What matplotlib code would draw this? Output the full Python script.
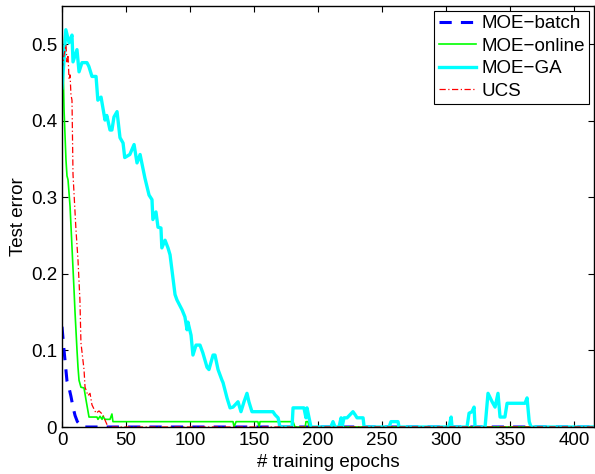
import numpy as np
import matplotlib
matplotlib.use("Agg")
import matplotlib.pyplot as plt

plt.rcParams['font.family'] = ['Liberation Sans', 'DejaVu Sans']

# MOE-batch (blue dashed)
batch_x = [0, 1.6, 2.3, 3.9, 5.5, 7, 8.6, 10.2, 12, 15.6, 415.6]
batch_y = [0.131, 0.10, 0.088, 0.060, 0.051, 0.040, 0.026, 0.015, 0.007, 0, 0]

# MOE-online (green)
online_x = [0, 0.8, 1.6, 3.1, 3.9, 4.7, 6.3, 7.8, 9.4, 10.2, 11.7, 12.5, 13.3,
            14.8, 17.2, 18.8, 21.1, 27.3, 28.1, 29.7, 31.3, 32, 33.6, 37.5, 39,
            39.8, 133.6, 134.4, 136, 153, 154, 154.7, 180.5, 182, 190, 190.6,
            192.2, 193, 415.6]
online_y = [0.519, 0.48, 0.414, 0.349, 0.328, 0.323, 0.288, 0.235, 0.179, 0.149,
            0.101, 0.078, 0.061, 0.052, 0.051, 0.035, 0.013, 0.013, 0.010, 0.014,
            0.010, 0.014, 0.010, 0.010, 0.017, 0.007, 0.007, 0, 0.007, 0.007, 0,
            0.007, 0.007, 0, 0, 0.007, 0.007, 0, 0]

# MOE-GA (cyan)
ga_x = [0, 1.6, 3, 5.5, 7.8, 8.6, 11.7, 13.3, 15.6, 19.5, 21, 23.4, 26.6, 28,
        30.5, 33.6, 35, 37.5, 39, 40.6, 43, 45.3, 47.7, 49, 53, 56.3, 58.6, 61,
        64.8, 68, 70.3, 71, 73.4, 75, 77.3, 78, 80.5, 82.8, 84.4, 88.3, 89.8,
        93.8, 96, 97.7, 98.4, 100.8, 102.3, 104.7, 107.8, 110, 113.3, 114.8,
        118, 119.5, 121.9, 125, 125.8, 128.9, 131.3, 133.6, 137.5, 139.8, 142.2,
        144.5, 146, 148.4, 164.8, 166.4, 168.8, 170.3, 179.7, 180.5, 189, 190.6,
        191.4, 193, 194.5, 210, 211.7, 213.3, 216.4, 218, 218.8, 220.3, 222.7,
        225, 227.3, 229, 230.5, 235.2, 236, 255.5, 257, 262.5, 263.3, 302.3,
        304, 304.7, 316.4, 318, 320.3, 321.9, 322.7, 330.5, 332.8, 336, 338.3,
        340.6, 342.2, 346, 347.7, 361.7, 363.3, 365, 366.4, 415.6]
ga_y = [0.443, 0.480, 0.519, 0.502, 0.512, 0.477, 0.493, 0.464, 0.476, 0.476,
        0.471, 0.458, 0.458, 0.427, 0.431, 0.401, 0.407, 0.388, 0.388, 0.405,
        0.412, 0.378, 0.371, 0.352, 0.356, 0.369, 0.345, 0.356, 0.325, 0.303,
        0.297, 0.271, 0.281, 0.261, 0.260, 0.234, 0.244, 0.234, 0.225, 0.173,
        0.166, 0.153, 0.144, 0.127, 0.137, 0.120, 0.094, 0.107, 0.107, 0.097,
        0.078, 0.075, 0.094, 0.094, 0.075, 0.061, 0.058, 0.038, 0.025, 0.026,
        0.033, 0.020, 0.033, 0.044, 0.033, 0.020, 0.020, 0.016, 0.012, 0, 0,
        0.025, 0.025, 0.012, 0.025, 0.012, 0, 0, 0.007, 0, 0, 0.012, 0, 0.012,
        0.012, 0.016, 0.020, 0.016, 0.012, 0.012, 0, 0, 0.007, 0.007, 0, 0,
        0.013, 0, 0, 0.018, 0.020, 0.026, 0, 0, 0.044, 0.033, 0.026, 0.044,
        0.013, 0.013, 0.031, 0.031, 0.038, 0.007, 0, 0]

# UCS (red dash-dot)
ucs_x = [0, 1.6, 3.1, 3.9, 4.7, 5.5, 6.3, 7, 7.8, 8.6, 10.9, 12.5, 14, 14.8,
         17.2, 18, 20.3, 21.9, 23.4, 26.6, 28.9, 32, 33.6, 35.2, 36, 415.6]
ucs_y = [0.467, 0.486, 0.499, 0.477, 0.486, 0.454, 0.460, 0.434, 0.427, 0.330,
         0.258, 0.218, 0.166, 0.110, 0.075, 0.052, 0.041, 0.044, 0.029, 0.018,
         0.021, 0.016, 0.009, 0.003, 0, 0]

fig = plt.figure(figsize=(5.95, 4.74), dpi=100)
ax = fig.add_axes([62 / 595, 1 - 427 / 474, 532 / 595, 421 / 474])

ax.plot(batch_x, batch_y, color='blue', lw=2.2, dashes=(4, 3), label='MOE\u2212batch')
ax.plot(online_x, online_y, color='#00ff00', lw=1.2, label='MOE\u2212online')
ax.plot(ga_x, ga_y, color='cyan', lw=2.4, label='MOE\u2212GA')
ax.plot(ucs_x, ucs_y, color='red', lw=0.9, dashes=(5, 2, 1, 2), label='UCS')

ax.set_xlim(0, 415.6)
ax.set_ylim(0, 0.55)
ax.set_xticks(np.arange(0, 401, 50))
ax.set_yticks([0, 0.1, 0.2, 0.3, 0.4, 0.5])
ax.set_yticklabels(['0', '0.1', '0.2', '0.3', '0.4', '0.5'])
ax.tick_params(direction='in', top=True, right=True, labelsize=13.5, length=4, width=0.8)
for s in ax.spines.values():
    s.set_linewidth(1.0)

ax.set_xlabel('# training epochs', fontsize=13.5, labelpad=4)
ax.set_ylabel('Test error', fontsize=13.5, labelpad=2.5)

leg = ax.legend(loc='upper right', fontsize=13.5, fancybox=False, edgecolor='black',
                framealpha=1, handlelength=2.0, handletextpad=0.25, labelspacing=0.28,
                borderpad=0.25, borderaxespad=0.25)
leg.get_frame().set_linewidth(0.8)

fig.savefig('out.png', dpi=100)
